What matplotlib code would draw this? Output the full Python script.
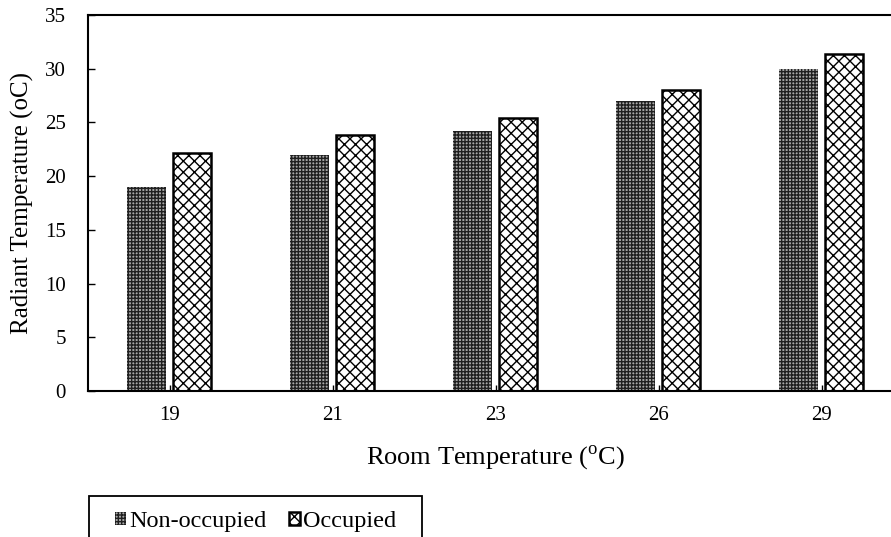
import numpy as np
import matplotlib
matplotlib.use("Agg")
import matplotlib.pyplot as plt
from matplotlib.patches import Rectangle

# data
room_temp = ["19", "21", "23", "26", "29"]
non_occupied = [19.0, 22.0, 24.2, 27.0, 30.0]
occupied = [22.2, 23.8, 25.4, 28.0, 31.4]

plt.rcParams['font.family'] = ['Liberation Serif', 'DejaVu Serif']
plt.rcParams['mathtext.fontset'] = 'custom'
plt.rcParams['mathtext.rm'] = 'Liberation Serif'
plt.rcParams['hatch.linewidth'] = 1.0

W, H = 891, 537
fig = plt.figure(figsize=(W / 100, H / 100), dpi=100)
ax = fig.add_axes([88 / W, 1 - 391 / H, 815 / W, 376 / H])

x = np.arange(len(room_temp))
w = 0.235
ax.bar(x - 0.142, non_occupied, w, facecolor='#a8a8a8', edgecolor='#202020',
       hatch='+++++', linewidth=0, label='Non-occupied')
ax.bar(x + 0.138, occupied, w, facecolor='white', edgecolor='black',
       hatch='xxx', linewidth=1.8, label='Occupied')

ax.set_xlim(-0.5, 4.5)
ax.set_ylim(0, 35)
ax.set_yticks(range(0, 36, 5))
ax.set_xticks(x)
ax.set_xticklabels(room_temp)
ax.tick_params(axis='both', direction='in', labelsize=15, width=1, color='black')
ax.tick_params(axis='y', length=5, pad=16)
ax.tick_params(axis='x', length=4, pad=11)
for s in ax.spines.values():
    s.set_linewidth(1.5)
    s.set_color('black')

ax.set_xlabel('Room Temperature ($^{\\mathrm{o}}$C)', fontsize=19, labelpad=13)
ax.set_ylabel('Radiant Temperature (oC)', fontsize=18, labelpad=8)

# legend box, cut off by the bottom edge like the reference
fig.patches.append(Rectangle((89 / W, -0.05), (422 - 89) / W, 0.05 + 1 - 496 / H,
                             transform=fig.transFigure, facecolor='none',
                             edgecolor='black', linewidth=1.3))
leg = fig.legend(loc='center left', bbox_to_anchor=(115 / W, 1 - 522 / H),
                 ncol=2, fontsize=17.5, frameon=False,
                 handlelength=0.45, handleheight=0.45, handletextpad=0.15,
                 columnspacing=0.9, borderpad=0, borderaxespad=0)

fig.savefig('out.png', dpi=100)
